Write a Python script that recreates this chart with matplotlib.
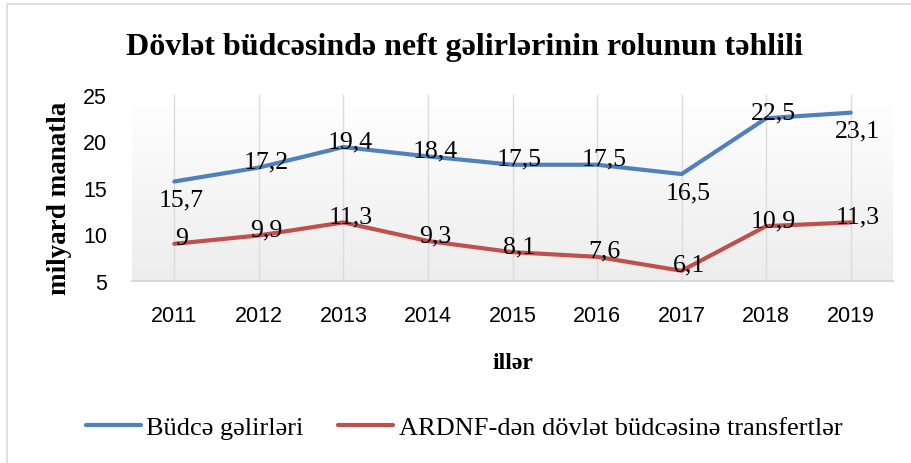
import numpy as np
import matplotlib
matplotlib.use('Agg')
from matplotlib import pyplot as plt
from matplotlib.patches import Rectangle

# data
years = ['2011', '2012', '2013', '2014', '2015', '2016', '2017', '2018', '2019']
budce = [15.7, 17.2, 19.4, 18.4, 17.5, 17.5, 16.5, 22.5, 23.1]
ardnf = [9, 9.9, 11.3, 9.3, 8.1, 7.6, 6.1, 10.9, 11.3]
yticks = [5, 10, 15, 20, 25]

title = 'Dövlət büdcəsində neft gəlirlərinin rolunun təhlili'
ylab = 'milyard manatla'
xlab = 'illər'
names = ['Büdcə gəlirləri', 'ARDNF-dən dövlət büdcəsinə transfertlər']

mavi = '#4F81BD'
qirmizi = '#C0504D'
serif = 'Liberation Serif'
sans = 'Liberation Sans'

# label yerləri (a = üstdə, b = altda)
pos_budce = ['b', 'a', 'a', 'a', 'a', 'a', 'b', 'a', 'b']
pos_ardnf = ['a', 'a', 'a', 'a', 'a', 'a', 'a', 'a', 'a']

fig = plt.figure(figsize=(9.11, 4.64), dpi=100)
ax = fig.add_axes([132/911, 1-282/464, 761/911, 186/464])

x = np.arange(len(years))

# fon gradienti
grad = np.linspace(0, 1, 100).reshape(-1, 1)
ax.imshow(grad, extent=[0, 1, 0, 1], transform=ax.transAxes, aspect='auto',
          cmap=matplotlib.colors.LinearSegmentedColormap.from_list('g', ['#EDEDED', '#FFFFFF']),
          origin='lower', zorder=0)

for xi in x:
    ax.axvline(xi, color='#DCDCDC', lw=1.0, zorder=1)

ax.plot(x, budce, color=mavi, lw=3, label=names[0], zorder=3, solid_capstyle='round')
ax.plot(x, ardnf, color=qirmizi, lw=3, label=names[1], zorder=3, solid_capstyle='round')

def yaz(vals, poss):
    for xi, v, p in zip(x, vals, poss):
        s = f'{v:g}'.replace('.', ',')
        if p == 'a':
            ax.annotate(s, (xi, v), xytext=(5, 0), textcoords='offset points',
                        ha='center', va='baseline', fontsize=18.5, family=serif, zorder=4)
        else:
            ax.annotate(s, (xi, v), xytext=(5, -5), textcoords='offset points',
                        ha='center', va='top', fontsize=18.5, family=serif, zorder=4)

yaz(budce, pos_budce)
yaz(ardnf, pos_ardnf)

ax.set_xlim(-0.5, len(years)-0.5)
ax.set_ylim(5, 25)
ax.set_xticks(x)
ax.set_xticklabels(years, fontsize=15.5, family=sans)
ax.set_yticks(yticks)
ax.set_yticklabels([str(t) for t in yticks], fontsize=15.5, family=sans)
ax.tick_params(length=0)
ax.tick_params(axis='y', pad=18)
ax.tick_params(axis='x', pad=17)
for s in ['left', 'right', 'top']:
    ax.spines[s].set_visible(False)
ax.spines['bottom'].set_color('#D9D9D9')
ax.spines['bottom'].set_linewidth(1.5)
ax.spines['bottom'].set_zorder(2)

# y oxu adı
fig.text(59/911, 1-198/464, ylab, rotation=90, ha='center', va='center',
         fontsize=19.5, family=serif, fontweight='bold')
ax.set_xlabel(xlab, fontsize=17, family=serif, fontweight='bold', va='top')
ax.xaxis.set_label_coords(0.5, -0.38)

fig.text(465/911, 1-55/464, title, ha='center', va='baseline', fontsize=23,
         family=serif, fontweight='bold')

fig.legend(loc='center', bbox_to_anchor=(464/911, 1-428/464), ncol=2, frameon=False,
           prop={'family': serif, 'size': 19}, handlelength=2.1, handletextpad=0.2,
           columnspacing=1.3)

fig.patches.append(Rectangle((7/911, -0.05), 1.1, 1.05-5/464, transform=fig.transFigure,
                             fill=False, edgecolor='#D9D9D9', lw=1.2, clip_on=False))

fig.savefig('out.png', dpi=100)
